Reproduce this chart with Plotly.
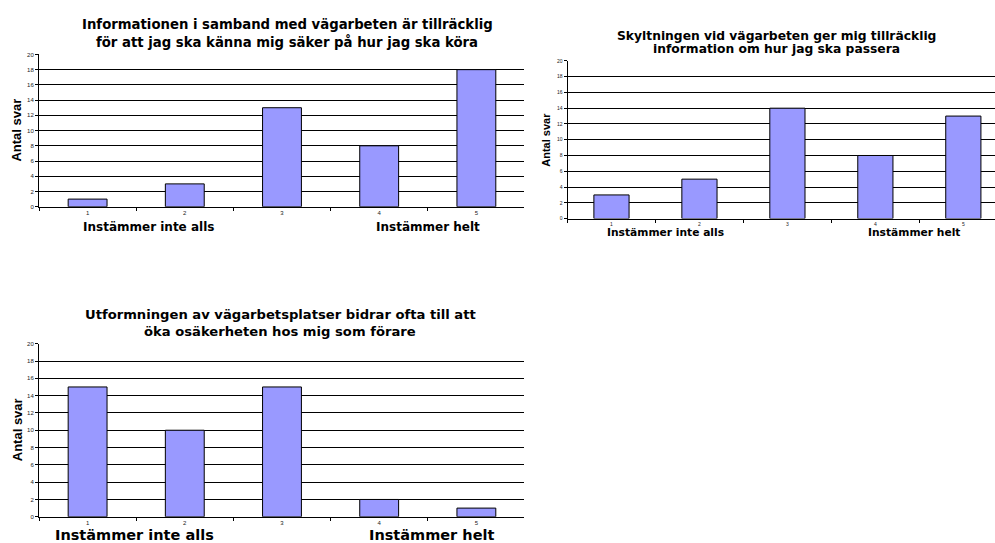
import plotly.graph_objects as go

W, H = 995, 543

categories = ["1", "2", "3", "4", "5"]
values_1 = [1, 3, 13, 8, 18]
values_2 = [3, 5, 14, 8, 13]
values_3 = [15, 10, 15, 2, 1]

title_1 = ["Informationen i samband med vägarbeten är tillräcklig",
           "för att jag ska känna mig säker på hur jag ska köra"]
title_2 = ["Skyltningen vid vägarbeten ger mig tillräcklig",
           "information om hur jag ska passera"]
title_3 = ["Utformningen av vägarbetsplatser bidrar ofta till att",
           "öka osäkerheten hos mig som förare"]
y_title = "Antal svar"
low_label = "Instämmer inte alls"
high_label = "Instämmer helt"
y_ticks = list(range(0, 21, 2))

FONT = "Liberation Sans, Arial, sans-serif"
WIDE = "DejaVu Sans, Verdana, sans-serif"
BAR_COLOR = "#9999FF"


def px_x(p):
    return p / W


def px_y(p):
    return 1 - p / H


fig = go.Figure()

panels = [
    dict(vals=values_1, title=title_1, xl=39, xr=524, yt=52, yb=206, xmax=4.49,
         title_ys=(22, 39), title_x=287, title_size=13.25, ylab_x=17, ylab_size=13,
         low=(148, 226), high=(428, 226), lab_size=12, tick_size=6),
    dict(vals=values_2, title=title_2, xl=567.5, xr=995, yt=58.5, yb=218, xmax=4.36,
         title_ys=(33, 47), title_x=776, title_size=12.3, ylab_x=546, ylab_size=11,
         low=(665, 232), high=(914, 232), lab_size=10.7, tick_size=5),
    dict(vals=values_3, title=title_3, xl=39, xr=524, yt=344.5, yb=519.5, xmax=4.49,
         title_ys=(315, 332), title_x=280, title_size=13.15, ylab_x=17, ylab_size=13,
         low=(134, 538), high=(431, 538), lab_size=14.5, tick_size=6),
]

layout = dict(
    width=W, height=H,
    margin=dict(l=0, r=0, t=0, b=0),
    paper_bgcolor="white", plot_bgcolor="white",
    showlegend=False,
    bargap=0.6,
    font=dict(family=FONT, color="black"),
    annotations=[],
)

for i, p in enumerate(panels, start=1):
    xa = "x" if i == 1 else f"x{i}"
    ya = "y" if i == 1 else f"y{i}"
    fig.add_trace(go.Bar(
        x=categories, y=p["vals"], xaxis=xa, yaxis=ya,
        width=0.4,
        marker=dict(color=BAR_COLOR, line=dict(color="black", width=1)),
        hoverinfo="x+y",
    ))
    layout[f"xaxis{'' if i == 1 else i}"] = dict(
        domain=[px_x(p["xl"]), px_x(p["xr"])],
        anchor=ya,
        type="category",
        range=[-0.5, p["xmax"]],
        showgrid=False,
        showline=True, linecolor="black", linewidth=1,
        ticks="outside", ticklen=3, tickcolor="black", tickwidth=1,
        tickson="boundaries",
        tickfont=dict(size=p["tick_size"], color="#222"),
        fixedrange=True,
    )
    layout[f"yaxis{'' if i == 1 else i}"] = dict(
        domain=[px_y(p["yb"]), px_y(p["yt"])],
        anchor=xa,
        range=[0, 20],
        tickvals=y_ticks,
        showgrid=True, gridcolor="black", gridwidth=1,
        zeroline=False,
        showline=True, linecolor="black", linewidth=1,
        ticks="outside", ticklen=3, tickcolor="black",
        tickfont=dict(size=p["tick_size"], color="#222"),
        fixedrange=True,
    )
    ann = layout["annotations"]
    for line, ly in zip(p["title"], p["title_ys"]):
        ann.append(dict(text=f"<b>{line}</b>", xref="paper", yref="paper",
                        x=px_x(p["title_x"]), y=px_y(ly),
                        xanchor="center", yanchor="middle", showarrow=False,
                        font=dict(size=p["title_size"], family=WIDE, color="black")))
    ann.append(dict(text=f"<b>{y_title}</b>", xref="paper", yref="paper",
                    x=px_x(p["ylab_x"]), y=px_y((p["yt"] + p["yb"]) / 2),
                    xanchor="center", yanchor="middle", showarrow=False, textangle=-90,
                    font=dict(size=p["ylab_size"], family=FONT, color="black")))
    ann.append(dict(text=f"<b>{low_label}</b>", xref="paper", yref="paper",
                    x=px_x(p["low"][0]), y=px_y(p["low"][1]),
                    xanchor="center", yanchor="middle", showarrow=False,
                    font=dict(size=p["lab_size"], family=WIDE, color="black")))
    ann.append(dict(text=f"<b>{high_label}</b>", xref="paper", yref="paper",
                    x=px_x(p["high"][0]), y=px_y(p["high"][1]),
                    xanchor="center", yanchor="middle", showarrow=False,
                    font=dict(size=p["lab_size"], family=WIDE, color="black")))

fig.update_layout(**layout)
fig.write_html("out.html")
